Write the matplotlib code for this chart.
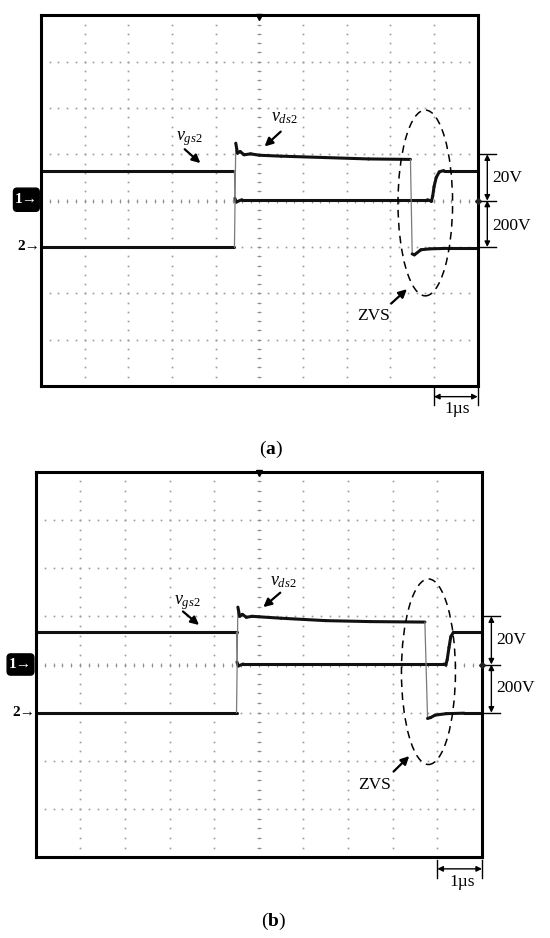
import numpy as np
import matplotlib.pyplot as plt
from matplotlib.collections import LineCollection
from matplotlib.patches import Ellipse, FancyBboxPatch

plt.rcParams['font.family'] = ['Liberation Serif', 'DejaVu Serif']
plt.rcParams['mathtext.fontset'] = 'custom'
plt.rcParams['mathtext.rm'] = 'Liberation Serif'
plt.rcParams['mathtext.it'] = 'Liberation Serif:italic'
plt.rcParams['mathtext.bf'] = 'Liberation Serif:bold'

# scope settings: 1 us/div, ch1 (vgs2) 20 V/div, ch2 (vds2) 200 V/div
us_per_div = 1.0
vgs_per_div = 20.0
vds_per_div = 200.0
ch1_ground = 4.0   # divisions above the bottom edge
ch2_ground = 3.0

# (a) waveforms, time in us, voltage in V
t_gs_a = [0, 4.43, 4.44, 4.47, 4.60, 8.85, 8.94, 8.97, 9.00, 9.05, 9.12, 9.22, 10]
v_gs_a = [13.0, 13.0, 1.0, -0.6, 0.4, 0.4, -0.3, 2.0, 6.0, 10.0, 12.4, 13.0, 13.0]
t_ds_a = [0, 4.43, 4.45, 4.46, 4.50, 4.56, 4.65, 4.80, 5.00, 5.50, 6.50, 7.50, 8.46,
          8.50, 8.55, 8.70, 8.90, 9.30, 10]
v_ds_a = [-2, -2, 300, 448, 405, 412, 398, 402, 396, 392, 386, 380, 378,
          -30, -34, -12, -8, -6, -6]

# (b) waveforms
t_gs_b = [0, 4.50, 4.51, 4.54, 4.65, 9.15, 9.19, 9.22, 9.26, 9.30, 9.36, 10]
v_gs_b = [13.4, 13.4, 1.0, -0.6, 0.2, 0.2, -0.2, 2.0, 7.0, 11.5, 13.4, 13.4]
t_ds_b = [0, 4.50, 4.52, 4.53, 4.57, 4.63, 4.72, 4.85, 5.00, 5.50, 6.50, 7.50, 8.72,
          8.78, 8.85, 8.95, 9.20, 9.60, 10]
v_ds_b = [0, 0, 300, 438, 400, 408, 396, 400, 398, 392, 382, 378, 376,
          -24, -20, -10, -4, -2, -2]


def draw_trace(ax, t, v, ground, per_div):
    x = np.asarray(t, float) / us_per_div
    y = ground + np.asarray(v, float) / per_div
    pts = np.column_stack([x, y])
    segs = np.stack([pts[:-1], pts[1:]], axis=1)
    slope = np.abs(np.diff(y)) / np.maximum(np.diff(x), 1e-6)
    steep = slope > 15
    lws = np.where(steep, 0.9, 2.2)
    cols = ['#7a7a7a' if s else '#111111' for s in steep]
    ax.add_collection(LineCollection(segs, linewidths=lws, colors=cols,
                                     capstyle='round', zorder=4))


def draw_screen(ax):
    ax.set_xlim(0, 10)
    ax.set_ylim(0, 8)
    ax.set_xticks([])
    ax.set_yticks([])
    for s in ax.spines.values():
        s.set_linewidth(2.2)
        s.set_color('black')
        s.set_zorder(6)
    fx = np.arange(0, 10.01, 0.2)
    fy = np.arange(0, 8.01, 0.2)
    for gy in range(0, 9):
        ax.plot(fx, np.full_like(fx, gy), ls='none', marker='s', ms=1.2,
                mew=0, color='#9a9a9a', zorder=1)
    for gx in range(0, 11):
        ax.plot(np.full_like(fy, gx), fy, ls='none', marker='s', ms=1.2,
                mew=0, color='#9a9a9a', zorder=1)
    # minor ticks on the centre lines
    ax.plot(fx, np.full_like(fx, 4), ls='none', marker='|', ms=2.5, mew=0.7,
            color='#909090', zorder=1)
    ax.plot(np.full_like(fy, 5), fy, ls='none', marker='_', ms=2.5, mew=0.7,
            color='#909090', zorder=1)
    ax.plot(5, 7.97, marker='v', ms=5, color='k', clip_on=False, zorder=7)
    ax.plot(10, ch1_ground, marker='D', ms=3, color='#222222', clip_on=False, zorder=7)


def arrow(ax, start, end, style='-|>', lw=1.6, ms=12):
    ax.annotate('', xy=end, xytext=start, annotation_clip=False,
                arrowprops=dict(arrowstyle=style, color='k', lw=lw,
                                mutation_scale=ms, shrinkA=0, shrinkB=0))


def annotate_screen(ax, p):
    ax.text(*p['gs_txt'], r'$\mathit{v}_{\mathit{gs2}}$', fontsize=13,
            ha='center', va='center')
    arrow(ax, *p['gs_arr'])
    ax.text(*p['ds_txt'], r'$\mathit{v}_{\mathit{ds2}}$', fontsize=13,
            ha='center', va='center')
    arrow(ax, *p['ds_arr'])
    ex, ey, ew, eh = p['ell']
    ax.add_patch(Ellipse((ex, ey), ew, eh, fill=False, ls=(0, (5, 3.5)),
                         lw=1.1, color='k', zorder=5, clip_on=False))
    ax.text(*p['zvs_txt'], 'ZVS', fontsize=12.5, ha='center', va='center')
    arrow(ax, *p['zvs_arr'])

    # volts/div markers on the right
    sx, t0, t1 = p['scale_x']
    y_hi, y_mid, y_lo = 5.0, ch1_ground, ch2_ground
    for yy in (y_hi, y_mid, y_lo):
        ax.plot([t0, t1], [yy, yy], color='k', lw=1.0, clip_on=False)
    arrow(ax, (sx, y_hi), (sx, y_mid), style='<|-|>', lw=1.0, ms=8)
    arrow(ax, (sx, y_mid), (sx, y_lo), style='<|-|>', lw=1.0, ms=8)
    ax.text(p['v_txt_x'], p['v20_y'], '20V', fontsize=12.5, ha='left', va='center')
    ax.text(p['v_txt_x'], p['v200_y'], '200V', fontsize=12.5, ha='left', va='center')

    # time/div marker
    by, bt0, bt1 = p['bar']
    for xx in (10 - us_per_div, 10):
        ax.plot([xx, xx], [bt0, bt1], color='k', lw=1.0, clip_on=False)
    arrow(ax, (10 - us_per_div, by), (10, by), style='<|-|>', lw=1.0, ms=8)
    ax.text(*p['us_txt'], '1\u00b5s', fontsize=12.5, ha='center', va='center')

    # channel markers
    bx0, by0, bh = p['ch1_box']
    ax.add_patch(FancyBboxPatch((bx0, by0), -bx0 - 0.04, bh,
                                boxstyle='round,pad=0,rounding_size=0.08',
                                fc='black', ec='black', clip_on=False, zorder=7))
    ax.text(bx0 / 2 - 0.02, by0 + bh / 2, '1\u2192', color='white', fontsize=11,
            fontweight='bold', ha='center', va='center', zorder=8,
            family=['Liberation Serif', 'DejaVu Sans'])
    ax.text(-0.02, ch2_ground, '2\u2192', color='black', fontsize=11,
            fontweight='bold', ha='right', va='center', zorder=8,
            family=['Liberation Serif', 'DejaVu Sans'])


fig = plt.figure(figsize=(5.5, 9.38), dpi=100)
ax_a = fig.add_axes([41 / 550, 1 - 386 / 938, 436.7 / 550, 370.7 / 938])
ax_b = fig.add_axes([35.7 / 550, 1 - 857.3 / 938, 446.3 / 550, 385.6 / 938])

for ax in (ax_a, ax_b):
    draw_screen(ax)

draw_trace(ax_a, t_gs_a, v_gs_a, ch1_ground, vgs_per_div)
draw_trace(ax_a, t_ds_a, v_ds_a, ch2_ground, vds_per_div)
draw_trace(ax_b, t_gs_b, v_gs_b, ch1_ground, vgs_per_div)
draw_trace(ax_b, t_ds_b, v_ds_b, ch2_ground, vds_per_div)

annotate_screen(ax_a, dict(
    gs_txt=(3.40, 5.33), gs_arr=((3.29, 5.11), (3.65, 4.81)),
    ds_txt=(5.57, 5.80), ds_arr=((5.49, 5.49), (5.12, 5.17)),
    ell=(8.80, 3.95, 1.25, 4.01),
    zvs_txt=(7.61, 1.50), zvs_arr=((8.02, 1.78), (8.38, 2.09)),
    scale_x=(10.22, 10.02, 10.43), v_txt_x=10.33, v20_y=4.48, v200_y=3.45,
    bar=(-0.23, -0.04, -0.41), us_txt=(9.52, -0.50),
    ch1_box=(-0.63, 3.77, 0.50),
))
annotate_screen(ax_b, dict(
    gs_txt=(3.40, 5.29), gs_arr=((3.30, 5.10), (3.66, 4.82)),
    ds_txt=(5.56, 5.72), ds_arr=((5.48, 5.49), (5.10, 5.19)),
    ell=(8.80, 3.85, 1.21, 3.85),
    zvs_txt=(7.59, 1.50), zvs_arr=((8.02, 1.78), (8.37, 2.10)),
    scale_x=(10.21, 10.05, 10.41), v_txt_x=10.33, v20_y=4.51, v200_y=3.51,
    bar=(-0.24, -0.06, -0.43), us_txt=(9.55, -0.51),
    ch1_box=(-0.64, 3.78, 0.44),
))

fig.text(270.7 / 550, 1 - 449 / 938, r'($\mathbf{a}$)', fontsize=14,
         ha='center', va='center')
fig.text(273.7 / 550, 1 - 921.7 / 938, r'($\mathbf{b}$)', fontsize=14,
         ha='center', va='center')

fig.savefig('out.png', dpi=100)
